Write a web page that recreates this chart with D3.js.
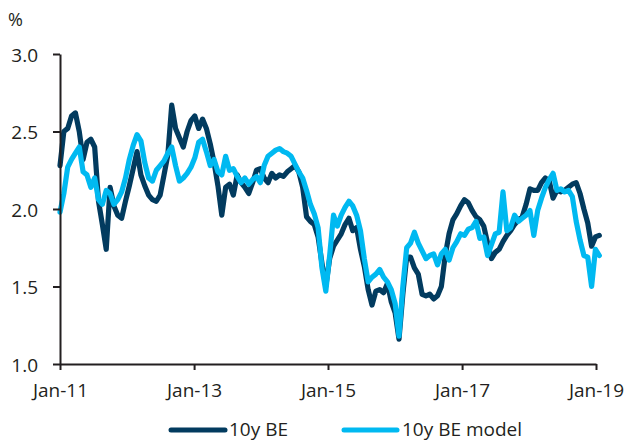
<!DOCTYPE html>
<html>
<head>
<meta charset="utf-8">
<script src="https://cdn.jsdelivr.net/npm/d3@7"></script>
<style>
  html, body { margin: 0; padding: 0; background: #fff; }
  svg { display: block; }
  text { font-family: "Open Sans", "Noto Sans", sans-serif; fill: #231f20; }
</style>
</head>
<body>
<svg id="chart" width="627" height="443"></svg>
<script>
// Observations every three weeks starting January 2011
const startDate = new Date(2011, 0, 1);
const stepDays = 21;

// 10y breakeven inflation (%)
const breakeven = [
  2.28, 2.50, 2.52, 2.60, 2.62, 2.50, 2.32, 2.43, 2.45, 2.40,
  2.05, 1.90, 1.74, 2.14, 2.02, 1.96, 1.94, 2.05, 2.15, 2.26,
  2.37, 2.22, 2.15, 2.09, 2.06, 2.05, 2.09, 2.22, 2.35, 2.67,
  2.52, 2.46, 2.40, 2.50, 2.57, 2.60, 2.52, 2.58, 2.52, 2.42,
  2.30, 2.15, 1.96, 2.14, 2.16, 2.09, 2.22, 2.17, 2.14, 2.10,
  2.17, 2.25, 2.26, 2.20, 2.17, 2.23, 2.20, 2.22, 2.21, 2.24,
  2.26, 2.28, 2.24, 2.14, 1.95, 1.92, 1.90, 1.82, 1.65, 1.50,
  1.68, 1.76, 1.80, 1.84, 1.90, 1.94, 1.86, 1.88, 1.74, 1.63,
  1.48, 1.38, 1.47, 1.48, 1.46, 1.52, 1.40, 1.33, 1.16, 1.45,
  1.69, 1.69, 1.62, 1.58, 1.45, 1.44, 1.45, 1.42, 1.44, 1.50,
  1.70, 1.84, 1.93, 1.97, 2.02, 2.06, 2.04, 1.99, 1.95, 1.93,
  1.89, 1.78, 1.68, 1.72, 1.74, 1.79, 1.83, 1.86, 1.90, 1.93,
  1.95, 2.03, 2.13, 2.12, 2.12, 2.17, 2.20, 2.18, 2.07, 2.12,
  2.11, 2.12, 2.14, 2.16, 2.17, 2.10, 2.00, 1.91, 1.76, 1.82,
  1.83
];

// Model estimate of 10y breakeven (%)
const model = [
  1.98, 2.10, 2.27, 2.32, 2.36, 2.40, 2.24, 2.22, 2.14, 2.20,
  2.06, 2.03, 2.12, 2.10, 2.03, 2.06, 2.11, 2.20, 2.32, 2.41,
  2.48, 2.44, 2.30, 2.20, 2.18, 2.25, 2.28, 2.31, 2.36, 2.40,
  2.28, 2.18, 2.20, 2.23, 2.27, 2.33, 2.43, 2.45, 2.37, 2.28,
  2.32, 2.24, 2.22, 2.34, 2.25, 2.26, 2.21, 2.17, 2.20, 2.16,
  2.19, 2.21, 2.17, 2.28, 2.34, 2.36, 2.38, 2.39, 2.37, 2.36,
  2.34, 2.29, 2.24, 2.20, 2.12, 2.03, 1.97, 1.88, 1.62, 1.47,
  1.70, 1.96, 1.89, 1.96, 2.01, 2.05, 2.02, 1.96, 1.86, 1.68,
  1.53, 1.56, 1.58, 1.61, 1.56, 1.53, 1.48, 1.39, 1.18, 1.50,
  1.75, 1.78, 1.85, 1.78, 1.73, 1.68, 1.70, 1.71, 1.64, 1.71,
  1.74, 1.67, 1.75, 1.79, 1.84, 1.83, 1.87, 1.88, 1.92, 1.81,
  1.82, 1.70, 1.77, 1.84, 1.85, 2.11, 1.86, 1.88, 1.96, 1.92,
  1.94, 1.96, 1.99, 1.83, 1.99, 2.07, 2.14, 2.19, 2.23, 2.12,
  2.13, 2.11, 2.12, 2.08, 1.92, 1.80, 1.70, 1.69, 1.50, 1.74,
  1.70
];

const yTicks = [1.0, 1.5, 2.0, 2.5, 3.0];
const xTickYears = [2011, 2013, 2015, 2017, 2019];
const seriesNames = ["10y BE", "10y BE model"];
const seriesColors = ["#023b5f", "#00b9f1"];

const dates = breakeven.map((_, i) => d3.timeDay.offset(startDate, stepDays * i));

const svg = d3.select("#chart");

const x = d3.scaleTime()
  .domain([new Date(2011, 0, 1), new Date(2019, 0, 1)])
  .range([60, 596]);
const y = d3.scaleLinear().domain([1, 3]).range([364, 54]);

// Series lines
const line = d3.line()
  .x((d, i) => x(dates[i]))
  .y(d => y(d))
  .curve(d3.curveLinear);

[breakeven, model].forEach((vals, k) => {
  svg.append("path")
    .datum(vals)
    .attr("d", line)
    .attr("fill", "none")
    .attr("stroke", seriesColors[k])
    .attr("stroke-width", 5.2)
    .attr("stroke-linejoin", "round")
    .attr("stroke-linecap", "round");
});

// Y axis
const yAxis = svg.append("g")
  .attr("transform", "translate(60,0)")
  .call(d3.axisLeft(y)
    .tickValues(yTicks)
    .tickFormat(d3.format(".1f"))
    .tickSize(7)
    .tickSizeOuter(0)
    .tickPadding(15));

// X axis
const xAxis = svg.append("g")
  .attr("transform", "translate(0,364)")
  .call(d3.axisBottom(x)
    .tickValues(xTickYears.map(yr => new Date(yr, 0, 1)))
    .tickFormat(d3.timeFormat("%b-%y"))
    .tickSize(6)
    .tickSizeOuter(0)
    .tickPadding(14));

[yAxis, xAxis].forEach(g => {
  g.select(".domain").attr("stroke", "#231f20").attr("stroke-width", 2);
  g.selectAll(".tick line").attr("stroke", "#231f20").attr("stroke-width", 2);
  g.selectAll(".tick text")
    .attr("fill", "#231f20")
    .style("font-family", "'Open Sans', 'Noto Sans', sans-serif")
    .style("font-size", "19px");
});
yAxis.selectAll(".tick text").attr("dy", "0.38em");

// Unit label
svg.append("text")
  .attr("x", 8)
  .attr("y", 26)
  .style("font-size", "18px")
  .text("%");

// Legend
const legendItems = [
  { x0: 171, x1: 225, tx: 229 },
  { x0: 344, x1: 397, tx: 402 }
];
legendItems.forEach((it, k) => {
  svg.append("line")
    .attr("x1", it.x0).attr("x2", it.x1)
    .attr("y1", 430).attr("y2", 430)
    .attr("stroke", seriesColors[k])
    .attr("stroke-width", 5)
    .attr("stroke-linecap", "round");
  svg.append("text")
    .attr("x", it.tx)
    .attr("y", 436)
    .style("font-size", "19px")
    .text(seriesNames[k]);
});
</script>
</body>
</html>
